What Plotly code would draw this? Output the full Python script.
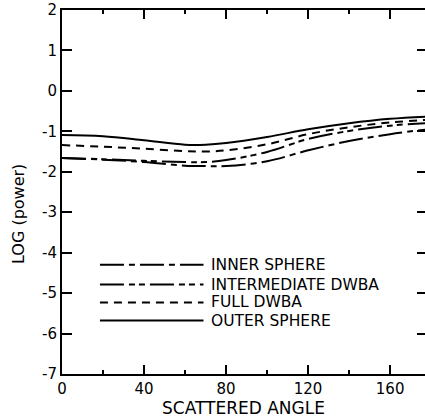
import plotly.graph_objects as go

# ---- data ----
angles = [0, 20, 40, 60, 70, 80, 100, 120, 140, 160, 180]
outer_sphere = [-1.09, -1.12, -1.22, -1.33, -1.33, -1.29, -1.14, -0.95, -0.80, -0.69, -0.63]
full_dwba = [-1.34, -1.38, -1.43, -1.49, -1.50, -1.47, -1.32, -1.07, -0.90, -0.78, -0.71]
intermediate_dwba = [-1.66, -1.69, -1.73, -1.76, -1.76, -1.71, -1.51, -1.19, -0.99, -0.86, -0.79]
inner_sphere = [-1.66, -1.70, -1.76, -1.85, -1.86, -1.86, -1.74, -1.47, -1.24, -1.07, -0.94]

series_names = ["INNER SPHERE", "INTERMEDIATE DWBA", "FULL DWBA", "OUTER SPHERE"]
series_values = [inner_sphere, intermediate_dwba, full_dwba, outer_sphere]

x_ticks = [0, 40, 80, 120, 160]
y_ticks = [-7, -6, -5, -4, -3, -2, -1, 0, 1, 2]
y_tick_text = [str(v) for v in y_ticks]

# ---- styles ----
dashes = ["24px,5px,6px,5px", "24px,5px,6px,4px,6px,5px", "8px,6px", "solid"]
FONT = "DejaVu Sans"
legend_rows = [-4.3, -4.79, -5.23, -5.68]
legend_x = [18.5, 69]

fig = go.Figure()
for name, vals, d in zip(series_names, series_values, dashes):
    fig.add_trace(go.Scatter(x=angles, y=vals, mode="lines", name=name,
                             line=dict(color="black", width=2, dash=d, shape="spline"),
                             showlegend=False, hoverinfo="skip"))

# legend samples drawn inside the plot
for name, yv, d in zip(series_names, legend_rows, dashes):
    fig.add_trace(go.Scatter(x=legend_x, y=[yv, yv], mode="lines",
                             line=dict(color="black", width=2, dash=d),
                             showlegend=False, hoverinfo="skip"))
    fig.add_annotation(x=legend_x[1] + 2.5, y=yv, text=name, showarrow=False,
                       xanchor="left", yanchor="middle",
                       font=dict(family=FONT, size=15.5, color="black"))

# y-axis title placed as rotated text
fig.add_annotation(xref="paper", yref="paper", x=-0.118, y=0.44,
                   text="LOG (power)", textangle=-90, showarrow=False,
                   xanchor="center", yanchor="middle",
                   font=dict(family=FONT, size=16, color="black"))

# dummy trace for mirrored axes
fig.add_trace(go.Scatter(x=[None], y=[None], xaxis="x2", yaxis="y2",
                         showlegend=False, hoverinfo="skip"))

axis_common = dict(showgrid=False, zeroline=False, color="black")
fig.update_layout(
    width=425, height=419,
    margin=dict(l=62, r=0, t=10, b=45),
    paper_bgcolor="white", plot_bgcolor="white",
    font=dict(family=FONT, size=15, color="black"),
    xaxis=dict(range=[0, 177], tickvals=x_ticks, ticks="inside", ticklen=9,
               tickwidth=1.5, showline=True, linewidth=2, linecolor="black",
               minor=dict(ticks="inside", ticklen=4, dtick=20, tick0=0,
                          tickwidth=1.5, tickcolor="black"),
               title=dict(text="SCATTERED ANGLE", standoff=3,
                          font=dict(family=FONT, size=17)),
               tickfont=dict(family=FONT, size=15), **axis_common),
    yaxis=dict(range=[-7, 2], tickvals=y_ticks, ticktext=y_tick_text,
               ticks="inside", ticklen=10, tickwidth=1.5,
               showline=True, linewidth=2, linecolor="black",
               tickfont=dict(family=FONT, size=15), **axis_common),
    xaxis2=dict(overlaying="x", side="top", matches="x", range=[0, 177],
                tickvals=x_ticks, ticks="inside", ticklen=9, tickwidth=1.5,
                showticklabels=False, showline=True, linewidth=2, linecolor="black",
                minor=dict(ticks="inside", ticklen=4, dtick=20, tick0=0,
                           tickwidth=1.5, tickcolor="black"),
                **axis_common),
    yaxis2=dict(overlaying="y", side="right", matches="y", range=[-7, 2],
                tickvals=y_ticks, ticks="inside", ticklen=8, tickwidth=2,
                showticklabels=False, showline=False, **axis_common),
)

fig.write_html("out.html")
